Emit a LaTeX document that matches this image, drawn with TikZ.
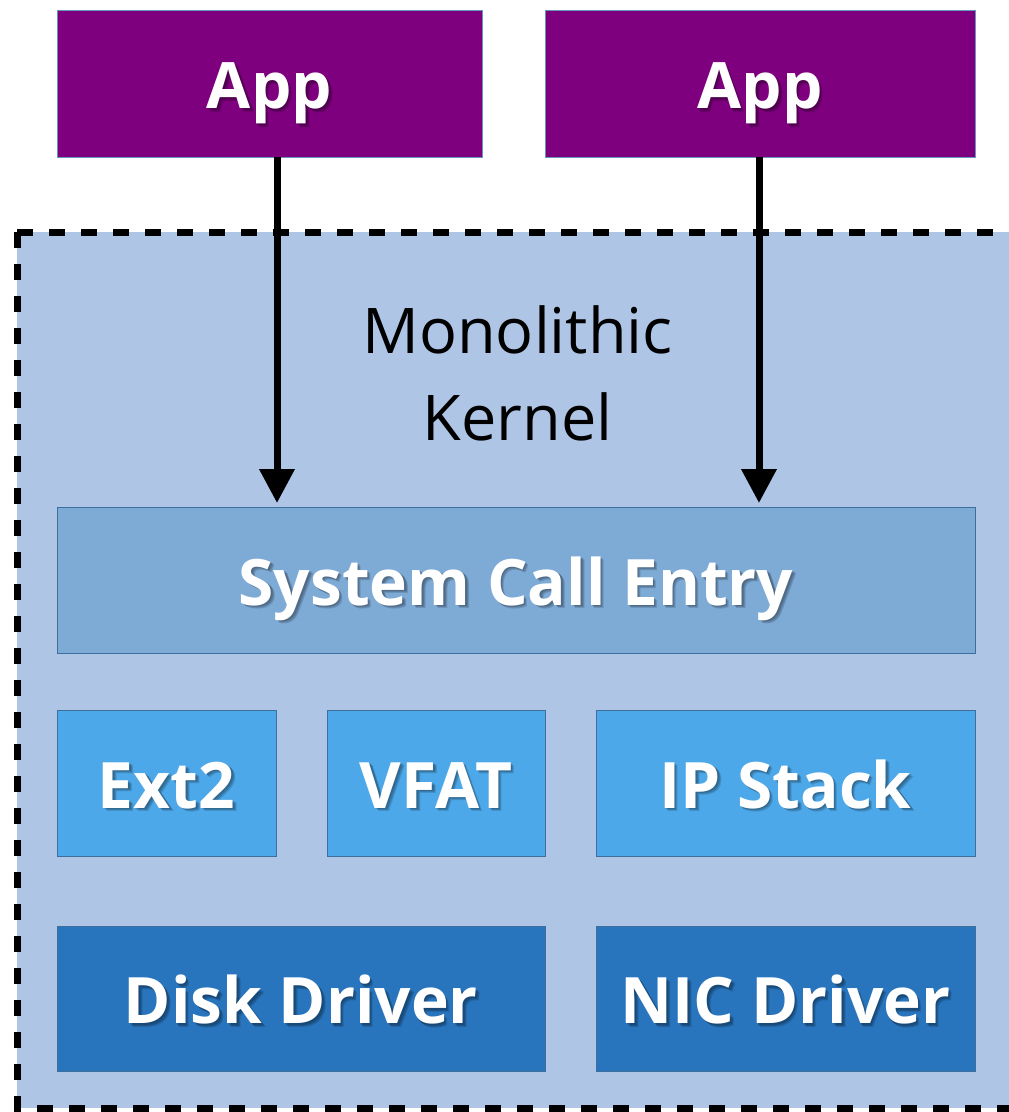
\documentclass[tikz,border=0pt]{standalone}
\usepackage{fontspec}
\setmainfont{Open Sans}
\usetikzlibrary{arrows.meta,calc}
\definecolor{appfill}{RGB}{127,0,127}
\definecolor{appline}{RGB}{100,150,190}
\definecolor{kernfill}{RGB}{175,197,229}
\definecolor{scefill}{RGB}{126,170,214}
\definecolor{midfill}{RGB}{77,168,233}
\definecolor{drvfill}{RGB}{40,117,190}
\definecolor{boxline}{RGB}{62,110,155}
\tikzset{
  blk/.style={draw=boxline, line width=1pt, inner sep=0pt, outer sep=0pt},
  appbox/.style={blk, draw=appline, fill=appfill, minimum width=425pt, minimum height=147pt},
  scebox/.style={blk, fill=scefill, minimum width=918pt, minimum height=146pt},
  midbox/.style={blk, fill=midfill, minimum height=146pt},
  drvbox/.style={blk, fill=drvfill, minimum height=145pt},
  lbl/.style={font=\fontsize{64}{72}\selectfont\bfseries, text=white, inner sep=0pt, text height=45.5pt, text depth=0pt},
  shd/.style={lbl, text=black, opacity=0.14},
  kern/.style={draw=black, line width=7pt, dash pattern=on 16pt off 16pt},
  kerntxt/.style={font=\fontsize{63}{87}\selectfont, anchor=base, inner sep=0pt},
  callarrow/.style={line width=7pt, -{Triangle[length=34pt,width=34pt]}, shorten >=4pt}
}
\newcommand\boxlabel[2]{%
  \node[shd] (#1s1) at ($(#1)+(1.5,4)$) {#2};
  \node[shd] (#1s2) at ($(#1)+(2.5,5)$) {#2};
  \node[shd] (#1s3) at ($(#1)+(3.5,6)$) {#2};
  \node[lbl] (#1t) at ($(#1)+(0,2.5)$) {#2};}
\begin{document}
\begin{tikzpicture}[x=1pt,y=-1pt]
\useasboundingbox (0,0) rectangle (1009,1112);
\clip (0,0) rectangle (1009,1112);
% kernel region
\fill[kernfill] (17,232) rectangle (1030,1108);
\draw[kern] (17,232) -- (1030,232);
\draw[kern] (17,232) -- (17,1108) -- (1030,1108);
\node[kerntxt] (mono) at (517.5,353) {Monolithic};
\node[kerntxt] (kname) at (517.5,440) {Kernel};
% apps
\node[appbox] (app1) at (269.5,83.5) {};
\node[appbox, minimum width=430pt] (app2) at (760,83.5) {};
\boxlabel{app1}{App}
\boxlabel{app2}{App}
% system call entry
\node[scebox] (sce) at (516,580) {};
\boxlabel{sce}{System Call Entry}
% middle row
\node[midbox, minimum width=219pt] (ext) at (166.5,783) {};
\node[midbox, minimum width=218pt] (vfat) at (436,783) {};
\node[midbox, minimum width=379pt] (ip) at (785.5,783) {};
\boxlabel{ext}{Ext2}
\boxlabel{vfat}{VFAT}
\boxlabel{ip}{IP Stack}
% drivers
\node[drvbox, minimum width=488pt] (disk) at (301,998.5) {};
\node[drvbox, minimum width=379pt] (nic) at (785.5,998.5) {};
\boxlabel{disk}{Disk Driver}
\boxlabel{nic}{NIC Driver}
% arrows
\coordinate (a1x) at (277,0);
\coordinate (a2x) at (759,0);
\draw[callarrow] (app1.south -| a1x) -- (sce.north -| a1x);
\draw[callarrow] (app2.south -| a2x) -- (sce.north -| a2x);
\end{tikzpicture}
\end{document}
